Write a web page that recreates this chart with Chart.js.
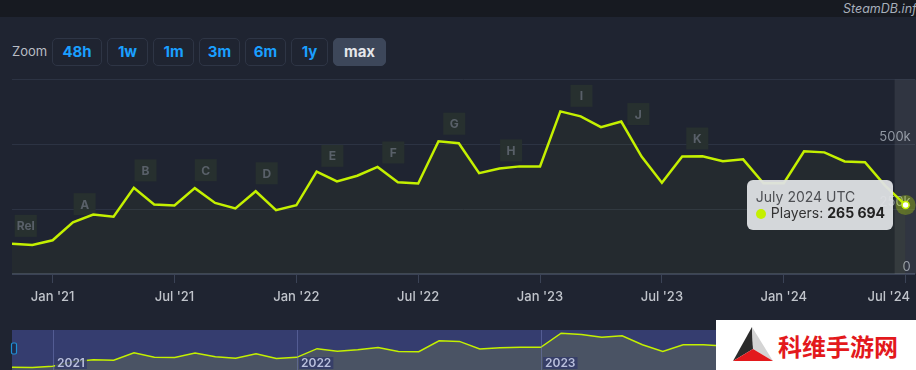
<!DOCTYPE html>
<html>
<head>
<meta charset="utf-8">
<script src="https://cdn.jsdelivr.net/npm/chart.js@4/dist/chart.umd.min.js"></script>
<style>
  body { margin: 0; width: 916px; height: 370px; overflow: hidden; background: #1f2431; position: relative;
         font-family: Inter, "Noto Sans", sans-serif; }
  #topbar { position: absolute; left: 0; top: 0; width: 916px; height: 17px; background: #171a21; }
  #brand { position: absolute; left: 843px; top: 1px; font-size: 12.5px; font-style: italic; color: #a7afbb; white-space: nowrap; }
  #zoomlbl { position: absolute; left: 12px; top: 43px; font-size: 13px; color: #b9bdc4; }
  .btn { position: absolute; top: 38px; height: 28px; box-sizing: border-box; border: 1px solid #2e3545; border-radius: 5px;
         color: #1a9fff; font-weight: 700; font-size: 15px; line-height: 26px; text-align: center; }
  .btn.on { background: #3d475a; border-color: #3d475a; color: #e4e6ea; }
  #main { position: absolute; left: 0; top: 60px; }
  #nav { position: absolute; left: 0; top: 330px; }
  #tip { position: absolute; display: none; background: rgba(222, 224, 228, 0.95); border-radius: 6px;
         padding: 9px 8px 9px 9px; font-size: 14px; line-height: 16px; color: #333; white-space: nowrap; }
  #tip .t { color: #4d4f53; }
  #tip .dot { display: inline-block; width: 10px; height: 10px; border-radius: 50%; background: #c4f000; margin-right: 5px; vertical-align: -1px; }
  #tip b { color: #222; }
  #wm { position: absolute; left: 716px; top: 320px; width: 200px; height: 50px; background: #fff; }
  #wm svg { position: absolute; left: 0; top: 0; }
  #wm span { position: absolute; left: 62px; top: 0; line-height: 52px; font-size: 24px; font-weight: 700;
             color: #e3191c; font-family: "Noto Sans CJK SC", sans-serif; }
</style>
</head>
<body>
<div id="topbar"></div>
<div id="brand">SteamDB.info</div>
<div id="zoomlbl">Zoom</div>
<div class="btn" style="left:52px;width:50px">48h</div>
<div class="btn" style="left:107px;width:41px">1w</div>
<div class="btn" style="left:153px;width:41px">1m</div>
<div class="btn" style="left:199px;width:41px">3m</div>
<div class="btn" style="left:245px;width:41px">6m</div>
<div class="btn" style="left:291px;width:37px">1y</div>
<div class="btn on" style="left:333px;width:53px">max</div>
<canvas id="main" width="916" height="260"></canvas>
<canvas id="nav" width="916" height="45"></canvas>
<div id="tip"></div>
<div id="wm">
  <svg width="60" height="50">
    <polygon points="36,7 17,41 37,29" fill="#2b2b2b"/>
    <polygon points="36,7 37,29 57,41" fill="#d4d4d4"/>
    <polygon points="17,41 57,41 37,29" fill="#e3191c"/>
  </svg>
  <span>科维手游网</span>
</div>
<script>
// monthly peak players, Nov 2020 .. Jul 2024
const months = [
  '2020-11', '2020-12',
  '2021-01', '2021-02', '2021-03', '2021-04', '2021-05', '2021-06', '2021-07', '2021-08', '2021-09', '2021-10', '2021-11', '2021-12',
  '2022-01', '2022-02', '2022-03', '2022-04', '2022-05', '2022-06', '2022-07', '2022-08', '2022-09', '2022-10', '2022-11', '2022-12',
  '2023-01', '2023-02', '2023-03', '2023-04', '2023-05', '2023-06', '2023-07', '2023-08', '2023-09', '2023-10', '2023-11', '2023-12',
  '2024-01', '2024-02', '2024-03', '2024-04', '2024-05', '2024-06', '2024-07'
];
const players = [
  117000, 112000,
  130000, 199000, 229000, 221000, 332000, 268000, 264000, 331000, 274000, 253000, 319000, 246000,
  265000, 395000, 357000, 379000, 413000, 354000, 349000, 512000, 504000, 389000, 407000, 415000,
  415000, 627000, 608000, 566000, 588000, 453000, 352000, 453000, 454000, 435000, 442000, 350000,
  350000, 473000, 469000, 434000, 431000, 340000, 265694
];
const xTickMonths = ['2021-01', '2021-07', '2022-01', '2022-07', '2023-01', '2023-07', '2024-01', '2024-07'];
const xTickLabels = ["Jan '21", "Jul '21", "Jan '22", "Jul '22", "Jan '23", "Jul '23", "Jan '24", "Jul '24"];
const yTicks = [0, 250000, 500000, 750000];
const navYearMonths = ['2021-01', '2022-01', '2023-01', '2024-01'];
const navYearLabels = ['2021', '2022', '2023', '2024'];
const flagLabels = ['Rel', 'A', 'B', 'C', 'D', 'E', 'F', 'G', 'H', 'I', 'J', 'K'];
const flagDates = ['2020-11-05', '2021-02-02', '2021-05-02', '2021-08-01', '2021-11-01', '2022-02-08',
                   '2022-05-08', '2022-08-08', '2022-11-02', '2023-02-16', '2023-05-10', '2023-08-07'];
const activeIndex = 44;

const monthNames = ['January', 'February', 'March', 'April', 'May', 'June', 'July', 'August', 'September', 'October', 'November', 'December'];
const LIME = '#c4f000';

function dateToIndex(d) {
  const [y, m, day] = d.split('-').map(Number);
  const [y0, m0] = months[0].split('-').map(Number);
  return (y - y0) * 12 + (m - m0) + ((day || 1) - 1) / 30;
}
function valueAt(f) {
  const i = Math.floor(f);
  const a = players[i], b = players[Math.min(i + 1, players.length - 1)];
  return a + (b - a) * (f - i);
}
function fullMonth(s) {
  const [y, m] = s.split('-').map(Number);
  return monthNames[m - 1] + ' ' + y;
}
const points = players.map((v, i) => ({ x: i, y: v }));
const xMax = months.length - 1 + 0.45;

// crosshair band, halo and event flags
const decorPlugin = {
  id: 'decor',
  beforeDatasetsDraw(chart) {
    const { ctx, chartArea, scales } = chart;
    ctx.save();
    chart.getActiveElements().forEach(a => {
      const el = a.element;
      ctx.fillStyle = 'rgba(255,255,255,0.08)';
      ctx.fillRect(el.x - 11, chartArea.top, 22, chartArea.bottom - chartArea.top);
      ctx.fillStyle = 'rgba(196,240,0,0.3)';
      ctx.beginPath();
      ctx.arc(el.x, el.y, 10, 0, Math.PI * 2);
      ctx.fill();
    });
    ctx.font = '700 12px Inter, sans-serif';
    ctx.textAlign = 'center';
    ctx.textBaseline = 'middle';
    flagLabels.forEach((lbl, i) => {
      const f = dateToIndex(flagDates[i]);
      const x = scales.x.getPixelForValue(f);
      const y = scales.y.getPixelForValue(valueAt(f));
      const w = Math.max(22, ctx.measureText(lbl).width + 4), h = 22;
      ctx.fillStyle = '#27302f';
      ctx.fillRect(x, y - 7 - h, w, h);
      ctx.fillStyle = '#596069';
      ctx.fillText(lbl, x + w / 2, y - 7 - h / 2 + 1);
    });
    ctx.restore();
  },
  afterDraw(chart) {
    const { ctx, chartArea, scales, width } = chart;
    ctx.save();
    ctx.font = '500 13px Inter, sans-serif';
    ctx.fillStyle = '#c0c4cb';
    ctx.textBaseline = 'middle';
    ctx.textAlign = 'left';
    xTickMonths.forEach((m, i) => {
      const x = scales.x.getPixelForValue(months.indexOf(m));
      const w = ctx.measureText(xTickLabels[i]).width;
      const left = Math.min(x - w / 2, width - 6 - w);
      ctx.fillText(xTickLabels[i], left, chartArea.bottom + 23);
    });
    ctx.restore();
  }
};

const mainChart = new Chart(document.getElementById('main'), {
  type: 'line',
  data: {
    datasets: [{
      label: 'Players',
      data: points,
      borderColor: LIME,
      borderWidth: 2.5,
      backgroundColor: 'rgba(196,240,0,0.035)',
      fill: 'origin',
      tension: 0,
      pointRadius: 0,
      pointHoverRadius: 3.5,
      pointHoverBackgroundColor: '#ffffff',
      pointHoverBorderColor: LIME,
      pointHoverBorderWidth: 1.5
    }]
  },
  options: {
    responsive: false,
    animation: false,
    events: [],
    layout: { padding: { left: 12, right: 0, top: 19.5, bottom: 37 } },
    scales: {
      x: {
        type: 'linear',
        min: 0,
        max: xMax,
        afterBuildTicks: s => { s.ticks = xTickMonths.map(m => ({ value: months.indexOf(m) })); },
        ticks: { display: false },
        grid: { drawOnChartArea: false, drawTicks: true, tickLength: 9, color: '#3b4356' },
        border: { display: false }
      },
      y: {
        position: 'right',
        min: 0,
        max: 750000,
        afterBuildTicks: s => { s.ticks = yTicks.map(v => ({ value: v })); },
        afterFit: s => { s.width = 0; },
        ticks: {
          mirror: true,
          padding: -4,
          labelOffset: -7,
          color: '#8f96a1',
          font: { family: 'Inter', size: 13 },
          callback: v => v === 0 ? '0' : (v === 750000 ? '' : (v / 1000) + 'k')
        },
        grid: {
          drawTicks: false,
          color: c => c.tick && c.tick.value === 0 ? '#3b4356' : '#2c3343',
          lineWidth: c => c.tick && c.tick.value === 0 ? 2 : 1
        },
        border: { display: false }
      }
    },
    plugins: {
      legend: { display: false },
      tooltip: {
        enabled: false,
        external: ({ chart, tooltip }) => {
          const el = document.getElementById('tip');
          if (tooltip.opacity === 0 || !tooltip.dataPoints || !tooltip.dataPoints.length) { el.style.display = 'none'; return; }
          const dp = tooltip.dataPoints[0];
          const num = Math.round(dp.parsed.y).toLocaleString('en-US').replace(/,/g, ' ');
          el.innerHTML = '<div class="t">' + fullMonth(months[dp.dataIndex]) + ' UTC</div>' +
                         '<div><span class="dot"></span>Players: <b>' + num + '</b></div>';
          el.style.display = 'block';
          const c = chart.canvas;
          el.style.left = (c.offsetLeft + tooltip.caretX - 14 - el.offsetWidth) + 'px';
          el.style.top = (c.offsetTop + tooltip.caretY - el.offsetHeight / 2) + 'px';
        }
      }
    }
  },
  plugins: [decorPlugin]
});

const pt = mainChart.getDatasetMeta(0).data[activeIndex];
mainChart.setActiveElements([{ datasetIndex: 0, index: activeIndex }]);
mainChart.tooltip.setActiveElements([{ datasetIndex: 0, index: activeIndex }], { x: pt.x, y: pt.y });
mainChart.update('none');

// navigator strip
const navPlugin = {
  id: 'navdecor',
  beforeDraw(chart) {
    const { ctx, chartArea } = chart;
    ctx.save();
    ctx.fillStyle = '#353d6f';
    ctx.fillRect(chartArea.left, chartArea.top, chartArea.right - chartArea.left, chartArea.bottom - chartArea.top);
    ctx.restore();
  },
  afterDraw(chart) {
    const { ctx, chartArea, scales } = chart;
    ctx.save();
    ctx.font = '600 12px Inter, sans-serif';
    ctx.textBaseline = 'middle';
    navYearMonths.forEach((m, i) => {
      const x = Math.round(scales.x.getPixelForValue(months.indexOf(m))) + 0.5;
      ctx.strokeStyle = 'rgba(120,130,190,0.45)';
      ctx.lineWidth = 1;
      ctx.beginPath();
      ctx.moveTo(x, chartArea.top);
      ctx.lineTo(x, chartArea.bottom);
      ctx.stroke();
      const w = ctx.measureText(navYearLabels[i]).width + 4;
      ctx.fillStyle = 'rgba(52,60,105,0.85)';
      ctx.fillRect(x + 1.5, 27, w, 12);
      ctx.fillStyle = '#b9bfdc';
      ctx.fillText(navYearLabels[i], x + 3.5, 33.5);
    });
    ctx.strokeStyle = '#1f8fd6';
    ctx.fillStyle = '#1f2b4c';
    ctx.lineWidth = 1.2;
    ctx.beginPath();
    ctx.roundRect(chartArea.left - 0.5, 13, 5, 11, 1.5);
    ctx.fill();
    ctx.stroke();
    ctx.restore();
  }
};

new Chart(document.getElementById('nav'), {
  type: 'line',
  data: {
    datasets: [{
      data: points,
      borderColor: LIME,
      borderWidth: 1.5,
      backgroundColor: '#4a5364',
      fill: 'origin',
      tension: 0,
      pointRadius: 0
    }]
  },
  options: {
    responsive: false,
    animation: false,
    events: [],
    layout: { padding: { left: 12, right: 0, top: 0, bottom: 0 } },
    scales: {
      x: { type: 'linear', min: 0, max: xMax, display: false },
      y: { min: 0, max: 675000, display: false }
    },
    plugins: { legend: { display: false }, tooltip: { enabled: false } }
  },
  plugins: [navPlugin]
});
</script>
</body>
</html>
